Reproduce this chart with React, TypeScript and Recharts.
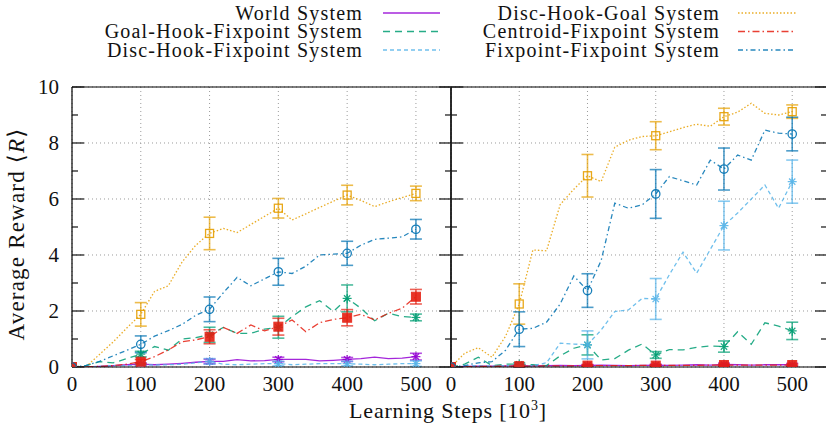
import React from 'react';
import { LineChart, Line, XAxis, YAxis, CartesianGrid, ErrorBar } from 'recharts';

// ---------- data ----------
const steps = [0, 20, 40, 60, 80, 100, 120, 140, 160, 180, 200, 220, 240, 260, 280, 300, 320, 340, 360, 380, 400, 420, 440, 460, 480, 500];
const markerSteps = [0, 100, 200, 300, 400, 500];
const xTicks = [0, 100, 200, 300, 400, 500];
const xInnerTicks = [100, 200, 300, 400, 500];
const yMajorTicks = [0, 2, 4, 6, 8, 10];
const yMinorTicks = [1, 3, 5, 7, 9];

// left panel
const leftWorld = [0, 0, 0.02, 0.05, 0.08, 0.1, 0.08, 0.1, 0.13, 0.17, 0.2, 0.2, 0.26, 0.22, 0.23, 0.27, 0.27, 0.27, 0.22, 0.24, 0.27, 0.3, 0.35, 0.3, 0.32, 0.37];
const leftGoalHookFix = [0, 0.05, 0.19, 0.15, 0.3, 0.46, 0.73, 0.6, 1.0, 1.05, 1.15, 1.41, 1.2, 1.2, 1.35, 1.42, 1.8, 2.15, 2.37, 1.98, 2.45, 2.1, 1.65, 1.92, 1.8, 1.77];
const leftDiscHookFix = [0, 0, 0.02, 0.05, 0.05, 0.08, 0.07, 0.08, 0.1, 0.15, 0.2, 0.1, 0.08, 0.1, 0.12, 0.12, 0.08, 0.1, 0.12, 0.12, 0.12, 0.1, 0.08, 0.1, 0.12, 0.12];
const leftDiscHookGoal = [0, 0, 0.45, 0.9, 1.4, 1.88, 2.7, 2.9, 3.75, 4.35, 4.77, 4.95, 4.8, 5.09, 5.38, 5.67, 5.25, 5.47, 5.7, 5.92, 6.14, 5.95, 5.73, 5.9, 6.05, 6.2];
const leftCentroidFix = [0, 0, 0.02, 0.05, 0.1, 0.19, 0.37, 0.61, 0.9, 0.97, 1.08, 1.41, 1.2, 1.5, 1.29, 1.44, 1.68, 1.26, 1.58, 1.7, 1.76, 1.88, 1.68, 1.92, 2.1, 2.51];
const leftFixFix = [0, 0.05, 0.2, 0.4, 0.6, 0.81, 1.1, 1.3, 1.52, 1.85, 2.06, 2.65, 3.2, 2.9, 3.15, 3.4, 3.34, 3.6, 4.0, 4.03, 4.06, 4.35, 4.56, 4.6, 4.65, 4.92];

const leftWorldErr = [0, 0.05, 0.08, 0.08, 0.07, 0.12];
const leftGoalHookFixErr = [0, 0.1, 0.27, 0.39, 0.48, 0.12];
const leftDiscHookFixErr = [0, 0.04, 0.1, 0.08, 0.08, 0.1];
const leftDiscHookGoalErr = [0, 0.42, 0.58, 0.35, 0.35, 0.26];
const leftCentroidFixErr = [0, 0.08, 0.25, 0.3, 0.29, 0.26];
const leftFixFixErr = [0, 0.3, 0.44, 0.48, 0.43, 0.35];

// right panel
const rightWorld = [0, 0.02, 0.03, 0.03, 0.04, 0.05, 0.04, 0.05, 0.06, 0.05, 0.06, 0.07, 0.06, 0.05, 0.06, 0.07, 0.06, 0.07, 0.08, 0.07, 0.09, 0.08, 0.07, 0.08, 0.08, 0.08];
const rightGoalHookFix = [0, 0.1, 0.35, 0.05, 0.1, 0.1, 0.08, 0.05, 0.4, 0.67, 0.79, 0.25, 0.3, 0.6, 0.82, 0.43, 0.62, 0.61, 0.7, 0.75, 0.73, 1.26, 0.81, 1.58, 1.46, 1.29];
const rightDiscHookFix = [0, 0.02, 0.05, 0.03, 0.05, 0.05, 0.05, 0.15, 0.85, 0.82, 0.79, 1.32, 1.98, 2.04, 2.45, 2.43, 3.3, 4.1, 3.35, 4.2, 5.05, 5.5, 6.0, 6.5, 5.67, 6.62];
const rightDiscHookGoal = [0, 0.49, 0.69, 0.35, 1.1, 2.25, 4.18, 4.15, 5.8, 6.35, 6.83, 6.62, 7.85, 8.1, 8.23, 8.26, 8.4, 8.55, 8.67, 8.6, 8.94, 9.1, 9.42, 9.06, 9.0, 9.12];
const rightCentroidFix = [0, 0.01, 0.02, 0.02, 0.03, 0.03, 0.03, 0.04, 0.04, 0.04, 0.05, 0.05, 0.05, 0.05, 0.06, 0.05, 0.06, 0.06, 0.06, 0.07, 0.07, 0.07, 0.07, 0.07, 0.07, 0.07];
const rightFixFix = [0, 0.05, 0.15, 0.19, 0.6, 1.35, 1.38, 1.6, 2.25, 3.25, 2.73, 3.8, 5.85, 5.67, 5.79, 6.18, 6.8, 6.65, 6.5, 7.39, 7.07, 7.57, 7.39, 8.46, 8.35, 8.32];

const rightWorldErr = [0, 0.03, 0.03, 0.03, 0.05, 0.05];
const rightGoalHookFixErr = [0, 0.05, 0.36, 0.12, 0.2, 0.31];
const rightDiscHookFixErr = [0, 0.05, 0.5, 0.73, 0.87, 0.77];
const rightDiscHookGoalErr = [0, 0.72, 0.76, 0.5, 0.3, 0.24];
const rightCentroidFixErr = [0, 0.03, 0.03, 0.03, 0.03, 0.03];
const rightFixFixErr = [0, 0.62, 0.6, 0.87, 0.75, 0.6];

const seriesNames = [
  'World System',
  'Goal-Hook-Fixpoint System',
  'Disc-Hook-Fixpoint System',
  'Disc-Hook-Goal System',
  'Centroid-Fixpoint System',
  'Fixpoint-Fixpoint System',
];

// ---------- styles ----------
const SERIES = [
  { key: 'world', color: '#9400d3', dash: undefined, marker: 'star' },
  { key: 'ghf', color: '#009e73', dash: '7 5', marker: 'star' },
  { key: 'dhf', color: '#56b4e9', dash: '4 3', marker: 'star' },
  { key: 'dhg', color: '#e69f00', dash: '1.5 2', marker: 'openSquare' },
  { key: 'cf', color: '#e51e10', dash: '7 3 1.5 3', marker: 'filledSquare' },
  { key: 'ff', color: '#0072b2', dash: '5 3 1.5 3', marker: 'openCircle' },
];

const leftValues = [leftWorld, leftGoalHookFix, leftDiscHookFix, leftDiscHookGoal, leftCentroidFix, leftFixFix];
const leftErrs = [leftWorldErr, leftGoalHookFixErr, leftDiscHookFixErr, leftDiscHookGoalErr, leftCentroidFixErr, leftFixFixErr];
const rightValues = [rightWorld, rightGoalHookFix, rightDiscHookFix, rightDiscHookGoal, rightCentroidFix, rightFixFix];
const rightErrs = [rightWorldErr, rightGoalHookFixErr, rightDiscHookFixErr, rightDiscHookGoalErr, rightCentroidFixErr, rightFixFixErr];

function buildData(values: number[][], errs: number[][]) {
  return steps.map((x, i) => {
    const row: any = { x };
    const mi = markerSteps.indexOf(x);
    SERIES.forEach((s, si) => {
      row[s.key] = values[si][i];
      row[s.key + '_e'] = mi >= 0 ? errs[si][mi] : null;
    });
    return row;
  });
}

const leftData = buildData(leftValues, leftErrs);
const rightData = buildData(rightValues, rightErrs);

const FONT = "'Liberation Serif', 'DejaVu Serif', serif";
const W = 826;
const H = 430;
const PLOT_TOP = 87;
const PLOT_BOTTOM = 367;
const SPLIT = 451;
const X_DOMAIN: [number, number] = [0, 551];
const Y_DOMAIN: [number, number] = [0, 10];
const AX = 0.01; // tiny box reserved for each axis

function Marker({ shape, color, cx, cy }: { shape: string; color: string; cx: number; cy: number }) {
  if (shape === 'openSquare') {
    return <rect x={cx - 4} y={cy - 4} width={8} height={8} fill="none" stroke={color} strokeWidth={1.3} />;
  }
  if (shape === 'filledSquare') {
    return <rect x={cx - 4.5} y={cy - 4.5} width={9} height={9} fill={color} stroke={color} strokeWidth={1} />;
  }
  if (shape === 'openCircle') {
    return <circle cx={cx} cy={cy} r={4.2} fill="none" stroke={color} strokeWidth={1.3} />;
  }
  const r = 4.5;
  const d = r * 0.7;
  return (
    <g stroke={color} strokeWidth={1.2}>
      <line x1={cx - r} y1={cy} x2={cx + r} y2={cy} />
      <line x1={cx} y1={cy - r} x2={cx} y2={cy + r} />
      <line x1={cx - d} y1={cy - d} x2={cx + d} y2={cy + d} />
      <line x1={cx - d} y1={cy + d} x2={cx + d} y2={cy - d} />
    </g>
  );
}

const makeDot = (shape: string, color: string) => (props: any) => {
  const { cx, cy, payload, index } = props;
  if (cx == null || cy == null || !payload || payload.x % 100 !== 0) {
    return <g key={`d-${index}`} />;
  }
  return (
    <g key={`d-${index}`} opacity={0.9}>
      <Marker shape={shape} color={color} cx={cx} cy={cy} />
    </g>
  );
};

const tickFont = { fontFamily: FONT, fontSize: 21, fill: '#111', style: { fontFamily: FONT } };
const noLabel = (props: any) => <g key={`t-${props.index}`} />;
const tickLineStyle = { stroke: '#111', strokeWidth: 1.2 };

function Panel({ data, left, right, chartWidth, showYLabels }: any) {
  return (
    <LineChart
      width={chartWidth}
      height={H}
      data={data}
      margin={{ top: PLOT_TOP - AX, bottom: H - PLOT_BOTTOM - AX, left: left - AX, right: right - AX }}
      style={{ position: 'absolute', left: 0, top: 0 }}
    >
      <CartesianGrid stroke="#9a9a9a" strokeWidth={1} strokeDasharray="1 3" />
      {/* bottom axis: frame + labels */}
      <XAxis
        dataKey="x"
        type="number"
        domain={X_DOMAIN}
        allowDataOverflow
        ticks={xTicks}
        interval={0}
        height={AX}
        tickSize={0}
        tickMargin={9}
        stroke="#000"
        strokeWidth={1.2}
        tickLine={false}
        tick={tickFont}
      />
      {/* bottom inward tick marks */}
      <XAxis
        xAxisId="bticks"
        type="number"
        domain={X_DOMAIN}
        allowDataOverflow
        ticks={xInnerTicks}
        interval={0}
        height={AX}
        mirror
        tickSize={10}
        stroke="#111"
        axisLine={false}
        tickLine={tickLineStyle}
        tick={noLabel}
      />
      {/* top frame + inward tick marks */}
      <XAxis
        xAxisId="top"
        orientation="top"
        type="number"
        domain={X_DOMAIN}
        allowDataOverflow
        ticks={xInnerTicks}
        interval={0}
        height={AX}
        mirror
        tickSize={11}
        stroke="#000"
        strokeWidth={1.2}
        axisLine
        tickLine={tickLineStyle}
        tick={noLabel}
      />
      {/* left frame + labels */}
      <YAxis
        type="number"
        domain={Y_DOMAIN}
        allowDataOverflow
        ticks={yMajorTicks}
        interval={0}
        width={AX}
        tickSize={0}
        tickMargin={13}
        stroke="#000"
        strokeWidth={1.2}
        tickLine={false}
        tick={showYLabels ? tickFont : noLabel}
      />
      <YAxis
        yAxisId="lmajor"
        type="number"
        domain={Y_DOMAIN}
        allowDataOverflow
        ticks={yMajorTicks}
        interval={0}
        width={AX}
        mirror
        tickSize={12}
        stroke="#111"
        axisLine={false}
        tickLine={tickLineStyle}
        tick={noLabel}
      />
      <YAxis
        yAxisId="lminor"
        type="number"
        domain={Y_DOMAIN}
        allowDataOverflow
        ticks={yMinorTicks}
        interval={0}
        width={AX}
        mirror
        tickSize={6}
        stroke="#111"
        axisLine={false}
        tickLine={tickLineStyle}
        tick={noLabel}
      />
      <YAxis
        yAxisId="rmajor"
        orientation="right"
        type="number"
        domain={Y_DOMAIN}
        allowDataOverflow
        ticks={yMajorTicks}
        interval={0}
        width={AX}
        mirror
        tickSize={12}
        stroke="#000"
        strokeWidth={1.2}
        axisLine
        tickLine={tickLineStyle}
        tick={noLabel}
      />
      <YAxis
        yAxisId="rminor"
        orientation="right"
        type="number"
        domain={Y_DOMAIN}
        allowDataOverflow
        ticks={yMinorTicks}
        interval={0}
        width={AX}
        mirror
        tickSize={6}
        stroke="#111"
        axisLine={false}
        tickLine={tickLineStyle}
        tick={noLabel}
      />
      {SERIES.map((s) => (
        <Line
          key={s.key}
          type="linear"
          dataKey={s.key}
          name={s.key}
          stroke={s.color}
          strokeOpacity={0.85}
          strokeWidth={1.3}
          strokeDasharray={s.dash}
          dot={makeDot(s.marker, s.color)}
          activeDot={false}
          isAnimationActive={false}
        >
          <ErrorBar
            dataKey={s.key + '_e'}
            width={6}
            stroke={s.color}
            strokeWidth={1.6}
            strokeOpacity={0.7}
            isAnimationActive={false}
          />
        </Line>
      ))}
    </LineChart>
  );
}

function Legend() {
  const rows = [0, 1, 2];
  const rowY = [13, 31.5, 50];
  const cols = [
    { textRight: 363, x1: 383, x2: 440 },
    { textRight: 720, x1: 738, x2: 796 },
  ];
  const textStyle = { fontFamily: FONT };
  return (
    <svg width={W} height={H} style={{ position: 'absolute', left: 0, top: 0, pointerEvents: 'none' }}>
      {cols.map((c, ci) =>
        rows.map((r) => {
          const si = ci * 3 + r;
          const s = SERIES[si];
          return (
            <g key={si}>
              <text
                x={c.textRight}
                y={rowY[r] + 6.5}
                textAnchor="end"
                style={textStyle}
                fontSize={20}
                letterSpacing={1.2}
                fill="#111"
              >
                {seriesNames[si]}
              </text>
              <line
                x1={c.x1}
                x2={c.x2}
                y1={rowY[r]}
                y2={rowY[r]}
                stroke={s.color}
                strokeOpacity={0.85}
                strokeWidth={1.4}
                strokeDasharray={s.dash}
              />
            </g>
          );
        })
      )}
      <text
        transform="translate(24 234) rotate(-90)"
        textAnchor="middle"
        style={textStyle}
        fontSize={23}
        letterSpacing={1.2}
        fill="#111"
      >
        Average Reward ⟨<tspan fontStyle="italic">R</tspan>⟩
      </text>
      <text x={448} y={418} textAnchor="middle" style={textStyle} fontSize={22} letterSpacing={0.8} fill="#111">
        Learning Steps [10<tspan dy={-8} fontSize={14}>3</tspan><tspan dy={8}>]</tspan>
      </text>
    </svg>
  );
}

export default function App() {
  return (
    <div style={{ position: 'absolute', left: 0, top: 0, width: W, height: H, overflow: 'hidden', background: '#fff' }}>
      <Panel data={leftData} left={72} right={W - SPLIT} chartWidth={W} showYLabels />
      <Panel data={rightData} left={SPLIT} right={1} chartWidth={828} showYLabels={false} />
      <Legend />
    </div>
  );
}
